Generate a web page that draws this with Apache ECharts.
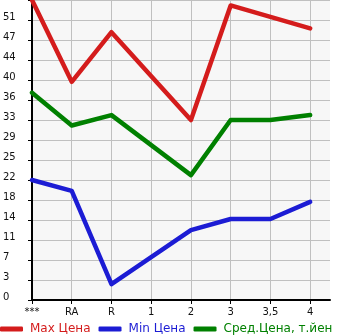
<!DOCTYPE html>
<html><head><meta charset="utf-8">
<script src="https://cdn.jsdelivr.net/npm/echarts@6/dist/echarts.min.js"></script>
<style>html,body{margin:0;padding:0;background:#fff}#c{width:345px;height:335px}</style>
</head><body><div id="c"></div>
<script>
var categories = ['***', 'RA', 'R', '1', '2', '3', '3,5', '4'];
var maxPrice = [55, 40.0, 49.1, null, 33.0, 54.0, 51.9, 49.8];
var minPrice = [22.0, 20.0, 2.9, null, 12.8, 14.85, 14.85, 18.0];
var avgPrice = [38.0, 32.0, 33.9, null, 22.9, 33.0, 33.0, 33.9];
var seriesNames = ['Max Цена', 'Min Цена', 'Сред.Цена, т.йен'];
var colors = ['#d41c1c', '#1c1cd4', '#008000'];
var yMax = 55;

function pts(arr){ return arr.map(function(v,i){ return [i, v]; }); }
var idx = categories.map(function(c,i){ return i; });
var chart = echarts.init(document.getElementById('c'));
var font = 'DejaVu Sans';
chart.setOption({
  animation: false,
  textStyle: {fontFamily: font},
  grid: {left: 30, right: 15, top: 0, bottom: 35, show: true, backgroundColor: '#f7f7f7', borderWidth: 0},
  legend: {
    left: 0, top: 323, width: 400, padding: 0, itemGap: 8, itemWidth: 23, itemHeight: 5, icon: 'roundRect',
    textStyle: {fontFamily: font, fontSize: 12, padding: [0,0,0,2]},
    data: seriesNames.map(function(n,i){ return {name: n, textStyle: {color: colors[i]}}; })
  },
  xAxis: {
    type: 'value', min: 0, max: (categories.length - 0.5), interval: 0.5,
    axisLine: {show: true, onZero: false, lineStyle: {color: '#000', width: 2}},
    axisTick: {show: true, length: 4, lineStyle: {color: '#000'}, customValues: idx},
    axisLabel: {customValues: idx, margin: 7, color: '#111', fontSize: 10, fontFamily: font,
      formatter: function(v){ return categories[Math.round(v)] || ''; }},
    splitLine: {show: true, lineStyle: {color: '#c0c0c0', width: 1}}
  },
  yAxis: {
    type: 'value', min: 0, max: yMax, interval: yMax / 15,
    axisLine: {show: true, lineStyle: {color: '#000', width: 2}},
    axisTick: {show: true, length: 4, lineStyle: {color: '#000'}},
    axisLabel: {align: 'left', margin: 29, color: '#111', fontSize: 10, fontFamily: font,
      verticalAlign: 'bottom', lineHeight: 6,
      formatter: function(v){ return v > yMax - 0.01 ? '' : String(Math.floor(v + 1e-6)); }},
    splitLine: {show: true, lineStyle: {color: '#c0c0c0', width: 1}}
  },
  series: [maxPrice, minPrice, avgPrice].map(function(arr, i){
    return {
      name: seriesNames[i], type: 'line', data: pts(arr), connectNulls: true,
      showSymbol: false, symbol: 'none', color: colors[i],
      lineStyle: {width: 4.5, color: colors[i], cap: 'round', join: 'round'}
    };
  })
});
</script></body></html>
